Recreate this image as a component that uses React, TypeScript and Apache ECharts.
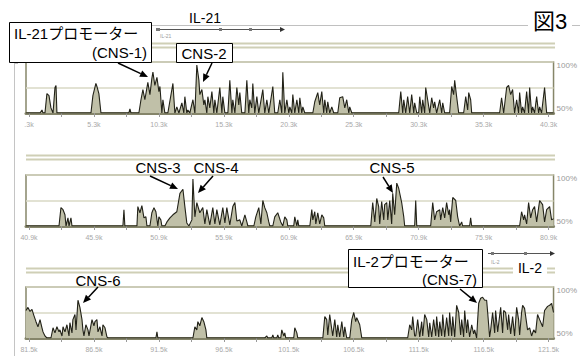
import React, { useEffect, useRef } from "react";
import * as echarts from "echarts";

// ---- Data: conservation (%), position in kb ----
const conservation1: number[][] = [[0.07,50],[1.15,50],[1.3,53],[1.38,50],[1.53,50],[1.68,69],[1.84,67],[1.99,55],[2.15,50],[2.3,75],[2.38,77],[2.45,50],[5.07,50],[5.22,67],[5.45,79],[5.53,76],[5.68,69],[5.84,50],[7.99,50],[8.07,54],[8.15,50],[8.76,50],[8.92,63],[9.07,73],[9.22,63],[9.45,80],[9.61,68],[9.76,84],[9.84,90],[9.99,77],[10.15,85],[10.3,71],[10.38,76],[10.53,50],[10.61,63],[10.76,50],[10.99,50],[11.38,79],[11.53,50],[11.68,56],[11.84,50],[12.07,60],[12.22,50],[12.3,66],[12.45,50],[12.53,53],[12.68,50],[12.92,63],[13.07,50],[13.22,97],[13.38,82],[13.45,68],[13.61,73],[13.76,58],[13.84,63],[13.99,50],[14.07,66],[14.22,55],[14.38,71],[14.53,50],[14.61,63],[14.76,50],[14.99,75],[15.15,50],[15.22,66],[15.38,50],[15.61,50],[15.76,82],[15.92,50],[15.99,63],[16.15,50],[16.3,75],[16.45,58],[16.53,70],[16.68,50],[16.92,50],[17.07,82],[17.22,50],[17.3,63],[17.45,55],[17.53,79],[17.68,50],[17.84,66],[17.99,50],[18.3,73],[18.45,50],[18.61,63],[18.76,50],[19.07,76],[19.22,50],[19.45,50],[19.61,63],[19.76,50],[19.84,90],[19.99,50],[20.15,63],[20.3,50],[20.38,56],[20.53,50],[20.61,68],[20.76,50],[20.92,63],[21.07,50],[21.15,65],[21.3,50],[21.38,56],[21.53,50],[22.15,50],[22.3,61],[22.53,70],[22.68,58],[22.84,71],[22.99,50],[23.07,63],[23.22,50],[23.3,61],[23.45,50],[23.61,56],[23.76,50],[24.07,50],[24.22,65],[24.45,66],[24.61,55],[24.76,63],[24.92,50],[24.99,56],[25.15,50],[28.76,50],[28.92,71],[29.07,50],[29.15,63],[29.3,50],[29.45,66],[29.61,50],[29.76,68],[29.92,50],[29.99,60],[30.15,50],[30.3,50],[30.38,66],[30.53,50],[30.61,63],[30.76,50],[30.84,75],[30.99,63],[31.15,50],[31.3,65],[31.45,55],[31.53,61],[31.68,50],[31.92,63],[32.07,50],[32.15,60],[32.3,50],[32.68,50],[32.84,76],[32.99,68],[33.07,82],[33.22,66],[33.38,50],[33.76,50],[33.92,66],[34.07,53],[34.15,70],[34.3,63],[34.38,50],[36.53,50],[36.68,65],[36.84,50],[37.07,75],[37.22,77],[37.38,68],[37.53,73],[37.68,50],[37.84,63],[37.99,50],[38.07,70],[38.22,50],[38.3,56],[38.45,50],[38.61,71],[38.76,50],[38.84,75],[38.99,50],[39.07,56],[39.22,50],[39.38,66],[39.53,50],[39.61,56],[39.76,50],[39.99,75],[40.15,50],[40.68,50]];

const conservation2: number[][] = [[40.67,50],[43.21,50],[43.36,68],[43.52,66],[43.67,61],[43.75,50],[43.9,58],[43.98,50],[44.13,58],[44.21,50],[48.13,50],[48.21,66],[48.28,50],[49.21,50],[49.28,69],[49.44,63],[49.59,70],[49.75,58],[49.9,59],[49.98,50],[50.21,50],[50.36,63],[50.52,68],[50.67,64],[50.82,50],[50.9,59],[51.05,56],[51.13,50],[51.36,50],[51.52,54],[51.75,58],[51.98,61],[52.28,64],[52.52,82],[52.75,86],[52.9,69],[53.05,53],[53.21,50],[53.44,56],[53.52,96],[53.67,59],[53.82,73],[54.05,63],[54.28,68],[54.44,52],[54.59,66],[54.82,51],[55.05,68],[55.21,52],[55.36,66],[55.59,51],[55.82,68],[55.98,53],[56.13,68],[56.36,51],[56.59,69],[56.75,73],[56.9,55],[57.13,56],[57.28,50],[57.52,61],[57.67,54],[57.75,50],[58.21,50],[58.36,59],[58.59,68],[58.75,52],[58.9,75],[59.05,68],[59.21,63],[59.36,54],[59.44,50],[59.67,50],[59.82,59],[60.05,63],[60.28,54],[60.44,50],[60.59,59],[60.75,56],[60.82,50],[61.28,50],[61.36,59],[61.52,50],[61.59,56],[61.67,50],[62.52,50],[62.67,66],[62.75,56],[62.9,64],[62.98,52],[63.13,63],[63.28,52],[63.44,61],[63.59,58],[63.67,50],[67.21,50],[67.36,73],[67.52,54],[67.67,77],[67.82,69],[67.9,52],[68.05,74],[68.21,56],[68.28,71],[68.44,73],[68.52,56],[68.67,75],[68.82,52],[68.9,82],[69.05,61],[69.21,92],[69.36,87],[69.59,73],[69.75,59],[69.82,50],[70.59,50],[70.67,75],[70.75,50],[71.82,50],[71.98,73],[72.13,56],[72.28,64],[72.52,66],[72.59,56],[72.75,68],[72.9,58],[73.05,73],[73.21,61],[73.28,66],[73.36,54],[73.52,78],[73.75,75],[73.9,59],[74.05,50],[74.21,54],[74.28,50],[74.82,50],[74.9,58],[74.98,50],[78.67,50],[78.82,64],[78.98,56],[79.05,61],[79.21,52],[79.36,73],[79.52,58],[79.67,66],[79.82,69],[79.98,54],[80.21,75],[80.44,71],[80.59,54],[80.75,66],[80.98,69],[81.13,56],[81.28,57]];

const conservation3: number[][] = [[81.27,77],[81.42,80],[81.58,76],[81.73,78],[81.88,72],[82.04,66],[82.19,61],[82.35,68],[82.5,60],[82.58,56],[82.73,52],[82.88,50],[83.19,50],[83.35,60],[83.5,55],[83.65,61],[83.81,56],[83.88,58],[84.04,52],[84.12,61],[84.27,56],[84.42,63],[84.58,52],[84.65,65],[84.81,55],[84.88,68],[85.04,73],[85.12,58],[85.27,87],[85.42,80],[85.58,68],[85.65,58],[85.73,52],[85.88,63],[86.04,58],[86.12,52],[86.35,68],[86.5,62],[86.58,66],[86.73,68],[86.81,56],[86.96,61],[87.12,52],[87.19,63],[87.35,60],[87.5,51],[87.58,50],[91.27,50],[91.35,56],[91.42,50],[94.12,50],[94.27,61],[94.42,58],[94.5,66],[94.65,62],[94.81,70],[94.96,66],[95.12,58],[95.19,50],[99.65,50],[99.81,52],[99.88,50],[100.19,50],[100.27,53],[100.35,50],[100.58,50],[100.65,53],[100.73,50],[100.88,50],[100.96,58],[101.12,52],[101.19,55],[101.27,50],[101.88,50],[101.96,60],[102.12,55],[102.19,50],[104.12,50],[104.27,71],[104.42,68],[104.5,53],[104.65,73],[104.88,52],[105.04,68],[105.19,51],[105.27,63],[105.42,51],[105.58,66],[105.73,51],[105.81,61],[105.96,50],[106.04,50],[106.19,50],[106.35,68],[106.5,75],[106.65,66],[106.73,70],[106.96,63],[107.12,50],[110.65,50],[110.81,63],[110.96,58],[111.04,71],[111.19,52],[111.27,52],[111.42,68],[111.58,51],[111.73,66],[111.81,52],[111.96,73],[112.12,68],[112.27,51],[112.35,65],[112.5,51],[112.65,68],[112.81,52],[112.88,71],[113.04,51],[113.12,66],[113.27,52],[113.35,73],[113.5,51],[113.65,70],[113.81,52],[113.88,75],[114.04,52],[114.12,71],[114.27,51],[114.42,82],[114.58,75],[114.73,53],[114.81,68],[114.96,51],[115.04,77],[115.19,55],[115.27,68],[115.42,51],[115.58,63],[115.73,54],[115.81,58],[115.96,50],[116.04,68],[116.12,84],[116.27,89],[116.42,90],[116.58,87],[116.73,87],[116.81,75],[116.96,51],[117.04,58],[117.19,75],[117.35,55],[117.42,77],[117.58,56],[117.81,80],[117.96,55],[118.04,77],[118.19,75],[118.35,58],[118.42,73],[118.58,54],[118.73,71],[118.88,52],[119.04,80],[119.19,68],[119.27,53],[119.42,75],[119.5,82],[119.65,79],[119.88,58],[120.04,60],[120.19,52],[120.35,58],[120.5,55],[120.65,73],[120.81,68],[121.04,61],[121.19,77],[121.42,81],[121.58,82],[121.73,84],[121.88,75]];

// ---- Axis ticks and labels ----
const ticks1 = [0.3, 5.3, 10.3, 15.3, 20.3, 25.3, 30.3, 35.3, 40.3];
const tickLabels1 = [".3k", "5.3k", "10.3k", "15.3k", "20.3k", "25.3k", "30.3k", "35.3k", "40.3k"];
const ticks2 = [40.9, 45.9, 50.9, 55.9, 60.9, 65.9, 70.9, 75.9, 80.9];
const tickLabels2 = ["40.9k", "45.9k", "50.9k", "55.9k", "60.9k", "65.9k", "70.9k", "75.9k", "80.9k"];
const ticks3 = [81.5, 86.5, 91.5, 96.5, 101.5, 106.5, 111.5, 116.5, 121.5];
const tickLabels3 = ["81.5k", "86.5k", "91.5k", "96.5k", "101.5k", "106.5k", "111.5k", "116.5k", "121.5k"];
const ranges = [[0.07, 40.68], [40.67, 81.28], [81.27, 121.88]];
const yLabels = ["50%", "100%"];

const FONT = "'Liberation Sans', 'Noto Sans CJK JP', Arial, sans-serif";

function arrow(x1: number, y1: number, x2: number, y2: number) {
  const dx = x2 - x1, dy = y2 - y1;
  const L = Math.hypot(dx, dy);
  const ux = dx / L, uy = dy / L;
  const hl = 8, hw = 3.5;
  const bx = x2 - ux * hl, by = y2 - uy * hl;
  const px = -uy, py = ux;
  return [
    { type: "line", z: 100, shape: { x1, y1, x2: bx, y2: by }, style: { stroke: "#000", lineWidth: 1.5 } },
    { type: "polygon", z: 100, shape: { points: [[x2, y2], [bx + px * hw, by + py * hw], [bx - px * hw, by - py * hw]] }, style: { fill: "#000" } },
  ];
}

function hline(x1: number, x2: number, y: number, color: string, w: number) {
  return { type: "line", z: 50, shape: { x1, y1: y, x2, y2: y }, style: { stroke: color, lineWidth: w } };
}

function text(x: number, y: number, t: string, size: number, align = "center", color = "#000") {
  return { type: "text", z: 110, x, y, style: { text: t, fontSize: size, fontFamily: FONT, fill: color, align, verticalAlign: "middle" } };
}

function box(x: number, y: number, w: number, h: number) {
  return { type: "rect", z: 105, shape: { x: x + 0.5, y: y + 0.5, width: w, height: h }, style: { fill: "#fff", stroke: "#000", lineWidth: 1 } };
}

export default function App() {
  const ref = useRef<HTMLDivElement>(null);
  useEffect(() => {
    if (!ref.current) return;
    const chart = echarts.init(ref.current, null, { renderer: "svg" });
    const tickSets = [ticks1, ticks2, ticks3];
    const labelSets = [tickLabels1, tickLabels2, tickLabels3];
    const datas = [conservation1, conservation2, conservation3];
    const tops = [62, 175, 287];

    const grids = tops.map((t) => ({
      left: 26, right: 26, top: t, height: 51,
      show: true, borderColor: "#868669", borderWidth: 1.5, backgroundColor: "transparent",
    }));

    const xAxes = tickSets.map((tk, i) => {
      const minor: number[] = [];
      tk.forEach((v, j) => {
        minor.push(v);
        if (j < tk.length - 1) minor.push((v + tk[j + 1]) / 2);
      });
      return {
        type: "value", gridIndex: i, min: ranges[i][0], max: ranges[i][1],
        axisLine: { show: true, onZero: false, lineStyle: { color: "#85856a", width: 3 } },
        axisTick: { show: true, customValues: minor, length: 4, lineStyle: { color: "#9a9a9a", width: 1 } },
        axisLabel: {
          show: true, customValues: tk, margin: 8, fontSize: 7, color: "#a8a8a8", fontFamily: FONT,
          formatter: (v: number) => {
            const k = tk.findIndex((t) => Math.abs(t - v) < 0.01);
            return k >= 0 ? labelSets[i][k] : "";
          },
        },
        splitLine: { show: false },
      };
    });

    const yAxes = tops.map((_, i) => ({
      type: "value", gridIndex: i, min: 50, max: 100, interval: 25, position: "right",
      axisLine: { show: false }, axisTick: { show: false },
      splitLine: { show: true, lineStyle: { color: "#d9d9c4", width: 1.5 } },
      axisLabel: {
        show: true, margin: 3, fontSize: 8, color: "#9a9a9a", fontFamily: FONT,
        formatter: (v: number) => (v === 100 ? "{a|" + yLabels[1] + "}" : v === 50 ? "{b|" + yLabels[0] + "}" : ""),
        rich: { a: { padding: [6, 0, 0, 0], fontSize: 8, color: "#9a9a9a" }, b: { padding: [0, 0, 10, 0], fontSize: 8, color: "#9a9a9a" } },
      },
    }));

    const series = datas.map((d, i) => ({
      type: "line", xAxisIndex: i, yAxisIndex: i, data: d, showSymbol: false,
      lineStyle: { color: "#222218", width: 1.1 },
      areaStyle: { color: "#c0c0a8", origin: "start", opacity: 1 },
      z: 3,
    }));

    const graphic: any[] = [
      // frame lines
      { type: "line", z: 40, shape: { x1: 14.5, y1: 63, x2: 14.5, y2: 356 }, style: { stroke: "#c4c4c4", lineWidth: 1 } },
      { type: "line", z: 40, shape: { x1: 14.5, y1: 63.5, x2: 18, y2: 63.5 }, style: { stroke: "#c4c4c4", lineWidth: 1 } },
      hline(150, 580, 25.5, "#c0c0c0", 1),
      // gene tracks
      hline(26, 555, 43.5, "#cfcfb6", 2), hline(26, 555, 47.5, "#cfcfb6", 2),
      hline(26, 555, 155.5, "#cfcfb6", 2), hline(26, 555, 159.5, "#cfcfb6", 2),
      hline(26, 555, 268.5, "#cfcfb6", 2), hline(26, 555, 272.5, "#cfcfb6", 2),
      // IL-21 gene model
      hline(157, 281, 29.5, "#555", 1.2),
      { type: "rect", z: 60, shape: { x: 156, y: 28, width: 4, height: 3 }, style: { fill: "#777" } },
      { type: "rect", z: 60, shape: { x: 219, y: 28, width: 3, height: 3 }, style: { fill: "#777" } },
      { type: "rect", z: 60, shape: { x: 249, y: 28, width: 3, height: 3 }, style: { fill: "#777" } },
      { type: "polygon", z: 60, shape: { points: [[285, 29.5], [280, 27], [280, 32]] }, style: { fill: "#333" } },
      text(160, 36, "IL-21", 5, "left", "#999"),
      // IL-2 gene model
      hline(488, 551, 253.5, "#555", 1.2),
      { type: "rect", z: 60, shape: { x: 491, y: 252, width: 3, height: 3 }, style: { fill: "#777" } },
      { type: "rect", z: 60, shape: { x: 524, y: 252, width: 3, height: 3 }, style: { fill: "#777" } },
      { type: "polygon", z: 60, shape: { points: [[555, 253.5], [550, 251], [550, 256]] }, style: { fill: "#333" } },
      text(491, 262, "IL-2", 5, "left", "#999"),
      { type: "rect", z: 100, shape: { x: 513, y: 259, width: 34, height: 18 }, style: { fill: "#fff" } },
      text(530, 268, "IL-2", 14),
      // title labels
      text(205, 18, "IL-21", 14),
      { type: "rect", z: 100, shape: { x: 528, y: 8, width: 44, height: 26 }, style: { fill: "#fff" } },
      text(550, 21, "図3", 22),
      // annotation boxes
      box(9, 22, 142, 40),
      text(14, 33, "IL-21プロモーター", 15, "left"),
      text(147, 52, "(CNS-1)", 15, "right"),
      box(176, 43, 56, 19),
      text(204, 53, "CNS-2", 15),
      text(158, 167, "CNS-3", 15),
      text(216, 167, "CNS-4", 15),
      text(392, 167, "CNS-5", 15),
      text(98, 280, "CNS-6", 15),
      box(348, 249, 134, 38),
      text(353, 261, "IL-2プロモーター", 15, "left"),
      text(477, 279, "(CNS-7)", 15, "right"),
      ...arrow(118, 63, 148, 77),
      ...arrow(212, 63, 203, 82),
      ...arrow(150, 176, 178, 189),
      ...arrow(213, 176, 198, 193),
      ...arrow(383, 177, 393, 193),
      ...arrow(98, 287, 83, 303),
      ...arrow(460, 289, 477, 303),
    ];

    chart.setOption({
      animation: false,
      backgroundColor: "#fff",
      grid: grids,
      xAxis: xAxes,
      yAxis: yAxes,
      series,
      graphic,
    } as any);
    return () => chart.dispose();
  }, []);
  return <div ref={ref} style={{ width: 580, height: 356, position: "fixed", left: 0, top: 0 }} />;
}
